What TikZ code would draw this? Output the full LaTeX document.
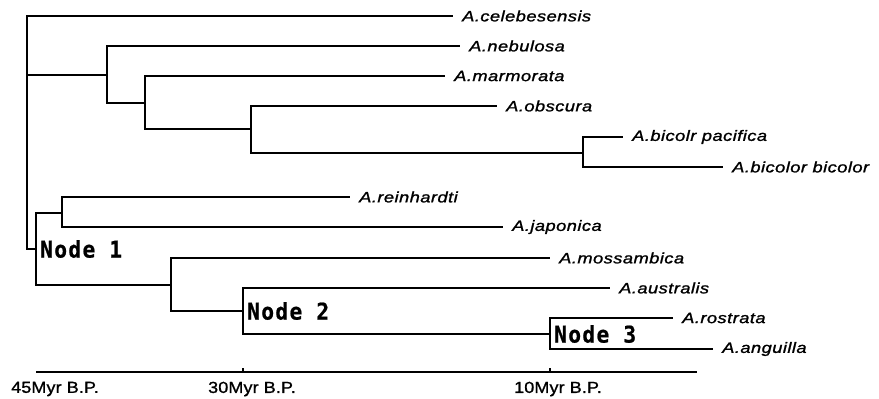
\documentclass[tikz,border=0pt]{standalone}
\usepackage{fontspec}
\setmainfont{Liberation Sans}
\newfontfamily\spfont{Liberation Sans}[FakeStretch=1.22,LetterSpace=3,FakeBold=1.3]
\newfontfamily\axfont{Liberation Sans}[FakeStretch=1.12,LetterSpace=1,FakeBold=1.2]
\newfontfamily\ndfont{DejaVu Sans Mono}[FakeStretch=0.92,LetterSpace=6,FakeBold=0.8]
\begin{document}
\begin{tikzpicture}[x=1pt,y=-1pt,
  branch/.style={line width=2.6pt},
  leaf/.style={anchor=west,inner xsep=9pt,inner ysep=0pt,font=\spfont\itshape\fontsize{15}{15}\selectfont},
  nodelab/.style={anchor=west,inner xsep=2pt,inner ysep=0pt,font=\ndfont\bfseries\fontsize{23}{23}\selectfont},
  axlab/.style={inner sep=0pt,font=\axfont\fontsize{16}{16}\selectfont}]
\useasboundingbox (0,0) rectangle (879,399);
% internal nodes
\coordinate (R) at (27,75);
\coordinate (A) at (107,75);
\coordinate (B) at (145,103);
\coordinate (C) at (251,129);
\coordinate (D) at (583,153);
\coordinate (N1) at (36,249);
\coordinate (E) at (62,213);
\coordinate (F) at (171,285);
\coordinate (N2) at (243,311);
\coordinate (N3) at (550,334);
% leaves
\node[leaf] (cel) at (453,16) {A.celebesensis};
\node[leaf] (neb) at (460,46) {A.nebulosa};
\node[leaf] (mar) at (445,76) {A.marmorata};
\node[leaf] (obs) at (497,106) {A.obscura};
\node[leaf] (pac) at (623,137) {A.bicolr pacifica};
\node[leaf] (bic) at (723,167) {A.bicolor bicolor};
\node[leaf] (rei) at (350,197) {A.reinhardti};
\node[leaf] (jap) at (503,227) {A.japonica};
\node[leaf] (mos) at (550,258) {A.mossambica};
\node[leaf] (aus) at (610,288) {A.australis};
\node[leaf] (ros) at (673,318) {A.rostrata};
\node[leaf] (ang) at (713,349) {A.anguilla};
% branches
\draw[branch] (R) |- (cel.west);
\draw[branch] (R) |- (A);
\draw[branch] (R) |- (N1);
\draw[branch] (A) |- (neb.west);
\draw[branch] (A) |- (B);
\draw[branch] (B) |- (mar.west);
\draw[branch] (B) |- (C);
\draw[branch] (C) |- (obs.west);
\draw[branch] (C) |- (D);
\draw[branch] (D) |- (pac.west);
\draw[branch] (D) |- (bic.west);
\draw[branch] (N1) |- (E);
\draw[branch] (N1) |- (F);
\draw[branch] (E) |- (rei.west);
\draw[branch] (E) |- (jap.west);
\draw[branch] (F) |- (mos.west);
\draw[branch] (F) |- (N2);
\draw[branch] (N2) |- (aus.west);
\draw[branch] (N2) |- (N3);
\draw[branch] (N3) |- (ros.west);
\draw[branch] (N3) |- (ang.west);
% node labels
\node[nodelab] (l1) at ([xshift=2pt]N1) {Node 1};
\node[nodelab] (l2) at ([xshift=2pt]N2) {Node 2};
\node[nodelab] (l3) at ([xshift=2pt]N3) {Node 3};
% time axis
\coordinate (ax0) at (36,372);
\coordinate (ax1) at (697,372);
\coordinate (t30) at (243,372);
\coordinate (t10) at (550,372);
\draw[line width=2.2pt] (ax0) -- (ax1);
\draw[line width=1.5pt] (t30) -- ++(0,-4);
\draw[line width=1.5pt] (t10) -- ++(0,-4);
\node[axlab] (a45) at (55,389) {45Myr B.P.};
\node[axlab] (a30) at (252,389) {30Myr B.P.};
\node[axlab] (a10) at (558,389) {10Myr B.P.};
\end{tikzpicture}
\end{document}
